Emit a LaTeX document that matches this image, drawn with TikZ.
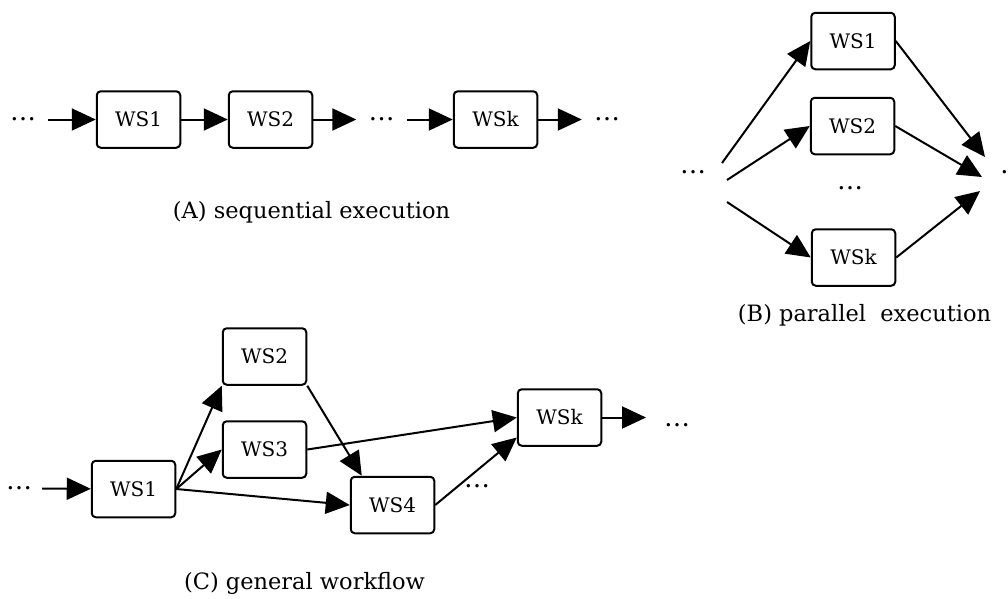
\documentclass[tikz,border=0pt]{standalone}
\usepackage{fontspec}
\setmainfont{DejaVu Serif}
\usetikzlibrary{arrows.meta}
\begin{document}
\begin{tikzpicture}[x=1pt,y=-1pt,
  wsbox/.style={draw, line width=2pt, rounded corners=4pt, minimum width=83.5pt, minimum height=56.5pt, inner sep=0pt, font=\fontsize{20}{24}\selectfont},
  dotsnode/.style={inner xsep=12pt, inner ysep=0pt, font=\fontsize{26}{30}\selectfont},
  captext/.style={font=\fontsize{22.5}{27}\selectfont, inner sep=0pt},
  arr/.style={line width=2pt, -{Triangle[length=24pt,width=22pt]}}]
\useasboundingbox (0,0) rectangle (1008,598);
% (A) sequential
\node[dotsnode] (dA0) at (23,119.5) {…};
\node[wsbox] (A1) at (138.5,119.5) {WS1};
\node[wsbox] (A2) at (270.5,119.5) {WS2};
\node[dotsnode] (dA1) at (381.5,119.5) {…};
\node[wsbox] (Ak) at (495.5,119.5) {WSk};
\node[dotsnode] (dA2) at (607,119.5) {…};
\draw[arr] (dA0) -- (A1);
\draw[arr] (A1) -- (A2);
\draw[arr] (A2) -- (dA1);
\draw[arr] (dA1) -- (Ak);
\draw[arr] (Ak) -- (dA2);
\node[captext] (capA) at (311.5,212) {(A) sequential execution};
% (B) parallel
\node[dotsnode] (dB0) at (693,172) {…};
\node[wsbox] (B1) at (853,41) {WS1};
\node[wsbox] (B2) at (852.5,126) {WS2};
\node[dotsnode] (dBm) at (850,188) {…};
\node[wsbox] (Bk) at (853.5,257.5) {WSk};
\node[dotsnode] (dB1) at (1013,172) {…};
\coordinate (s1) at (722,163);
\coordinate (s2) at (727,180);
\coordinate (s3) at (727,202);
\coordinate (e1) at (985,157);
\coordinate (e2) at (982,177);
\coordinate (e3) at (980,191);
\draw[arr] (s1) -- (B1.west);
\draw[arr] (s2) -- (B2.west);
\draw[arr] (s3) -- (Bk.west);
\draw[arr] (B1.east) -- (e1);
\draw[arr] (B2.east) -- (e2);
\draw[arr] (Bk.east) -- (e3);
\node[captext] (capB) at (864.5,315) {(B) parallel\ \ execution};
% (C) general workflow
\node[dotsnode, inner xsep=10pt] (dC0) at (19,488.5) {…};
\node[wsbox] (C1) at (133.5,489) {WS1};
\node[wsbox] (C2) at (264.5,356.5) {WS2};
\node[wsbox] (C3) at (264.5,449.5) {WS3};
\node[wsbox] (C4) at (392.5,505) {WS4};
\node[wsbox] (Ck) at (559.5,417.5) {WSk};
\node[dotsnode] (dCm) at (477,486) {…};
\node[dotsnode] (dCr) at (677,425) {…};
\coordinate (cend) at (646,417.5);
\draw[arr] (dC0) -- (C1);
\draw[arr] (C1.east) -- (C2.south west);
\draw[arr] (C1.east) -- (C3.west);
\draw[arr] (C1.east) -- (C4.west);
\draw[arr] (C2.south east) -- ([xshift=12pt]C4.north west);
\draw[arr] (C3.east) -- (Ck.west);
\draw[arr] (C4.east) -- ([yshift=-20pt]Ck.west);
\draw[arr] (Ck.east) -- (cend);
\node[captext] (capC) at (304.5,583) {(C) general workflow};
\end{tikzpicture}
\end{document}
